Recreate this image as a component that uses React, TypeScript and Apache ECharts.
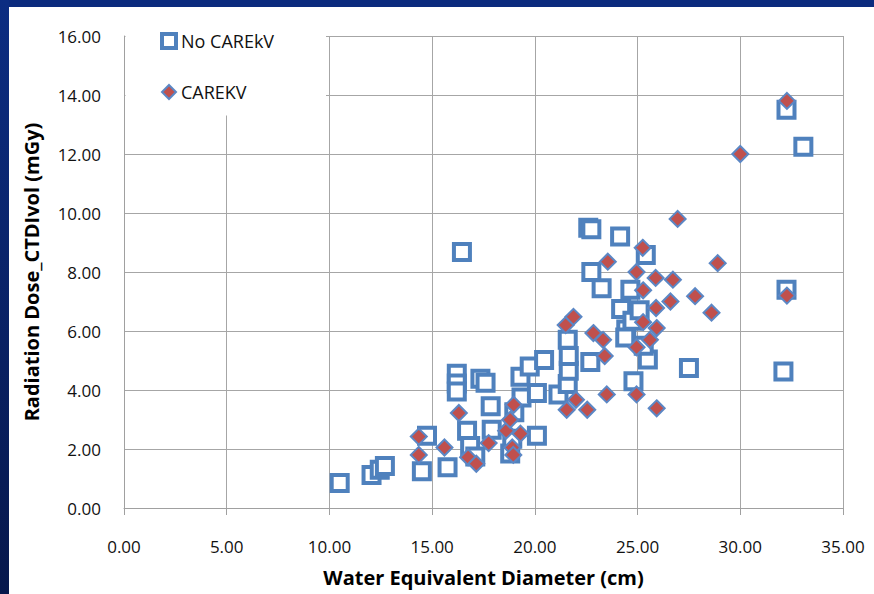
import React, { useEffect, useRef } from "react";
import * as echarts from "echarts";

const seriesNames = ["No CAREkV", "CAREKV"];

// [water equivalent diameter (cm), CTDIvol (mGy)]
const noCareKV: [number, number][] = [
  [10.5, 0.85], [12.05, 1.12], [12.45, 1.3], [12.7, 1.42], [14.5, 1.25],
  [14.75, 2.45], [15.75, 1.38], [16.2, 4.55], [16.2, 4.22], [16.2, 3.95],
  [16.45, 8.68], [16.7, 2.62], [16.85, 2.1], [17.1, 1.75], [17.35, 4.38],
  [17.6, 4.25], [17.85, 3.45], [17.9, 2.65], [18.8, 1.85], [18.9, 2.35],
  [19.0, 3.25], [19.3, 4.45], [19.35, 3.75], [19.75, 4.8], [20.1, 2.45],
  [20.1, 3.9], [20.45, 5.02], [21.15, 3.85], [21.6, 4.2], [21.65, 4.65],
  [21.6, 5.7], [21.65, 5.15], [22.6, 9.5], [22.75, 9.45], [22.75, 8.0],
  [22.7, 4.95], [23.25, 7.45], [24.15, 9.2], [24.2, 6.75], [24.45, 6.05],
  [24.4, 5.78], [24.65, 7.4], [24.75, 6.35], [24.8, 4.3], [25.1, 6.7],
  [25.4, 8.58], [25.5, 5.03], [25.3, 5.5], [27.5, 4.75], [32.25, 13.5],
  [33.07, 12.25], [32.25, 7.4], [32.1, 4.63],
];

const careKV: [number, number][] = [
  [14.35, 2.42], [14.35, 1.8], [15.6, 2.05], [16.3, 3.22], [16.75, 1.72],
  [17.15, 1.5], [17.75, 2.2], [18.6, 2.62], [18.8, 2.99], [18.9, 2.05],
  [18.95, 1.8], [18.97, 3.5], [19.3, 2.52], [21.5, 6.2], [21.88, 6.48],
  [21.55, 3.33], [22.0, 3.67], [22.55, 3.33], [22.85, 5.93], [23.32, 5.7],
  [23.4, 5.15], [23.5, 3.85], [23.55, 8.35], [24.95, 3.85], [24.95, 5.45],
  [24.95, 8.0], [25.25, 8.82], [25.27, 7.38], [25.27, 6.3], [25.6, 5.7],
  [25.88, 7.8], [25.9, 6.78], [25.93, 6.1], [25.93, 3.38], [26.6, 7.0],
  [26.72, 7.74], [26.95, 9.8], [27.8, 7.18], [28.6, 6.62], [28.9, 8.3],
  [30.0, 12.0], [32.27, 13.8], [32.27, 7.2],
];

const xTitle = "Water Equivalent Diameter (cm)";
const yTitle = "Radiation Dose_CTDIvol (mGy)";

const FONT = "'Open Sans', 'Noto Sans', sans-serif";
const BLUE = "#4f81bd";
const RED = "#c0504d";

export default function App() {
  const ref = useRef<HTMLDivElement>(null);
  useEffect(() => {
    const chart = echarts.init(ref.current!, null, { renderer: "svg" });
    const navy = new echarts.graphic.LinearGradient(0, 0, 0, 1, [
      { offset: 0, color: "#0c2d82" },
      { offset: 1, color: "#07184c" },
    ]);
    chart.setOption({
      animation: false,
      backgroundColor: "#ffffff",
      grid: { left: 124, right: 31, top: 36, bottom: 86, containLabel: false },
      xAxis: {
        type: "value",
        min: 0,
        max: 35,
        interval: 5,
        name: xTitle,
        nameLocation: "middle",
        nameGap: 59,
        nameTextStyle: { fontFamily: FONT, fontSize: 20, fontWeight: "bold", color: "#000" },
        axisLine: { show: true, lineStyle: { color: "#a0a0a0", width: 1 } },
        axisTick: { show: true, length: 7, lineStyle: { color: "#a0a0a0" } },
        splitLine: { show: true, lineStyle: { color: "#a6a6a6", width: 1 } },
        axisLabel: {
          fontFamily: FONT,
          fontSize: 17,
          color: "#111",
          margin: 30,
          formatter: (v: number) => v.toFixed(2),
        },
      },
      yAxis: {
        type: "value",
        min: 0,
        max: 16,
        interval: 2,
        name: yTitle,
        nameLocation: "middle",
        nameGap: 83,
        nameTextStyle: { fontFamily: FONT, fontSize: 20, fontWeight: "bold", color: "#000" },
        axisLine: { show: true, lineStyle: { color: "#a0a0a0", width: 1 } },
        axisTick: { show: false },
        splitLine: { show: true, lineStyle: { color: "#a6a6a6", width: 1 } },
        axisLabel: {
          fontFamily: FONT,
          fontSize: 17,
          color: "#111",
          margin: 23,
          formatter: (v: number) => v.toFixed(2),
        },
      },
      legend: {
        orient: "vertical",
        left: 155,
        top: 27,
        itemWidth: 14,
        itemHeight: 14,
        itemGap: 33,
        z: 20,
        textStyle: { fontFamily: FONT, fontSize: 18, color: "#111" },
        data: [
          {
            name: seriesNames[0],
            icon: "rect",
            itemStyle: { color: "#ffffff", borderColor: BLUE, borderWidth: 4 },
          },
          {
            name: seriesNames[1],
            icon: "diamond",
            itemStyle: { color: RED, borderColor: "#5b87c5", borderWidth: 2 },
          },
        ],
      },
      graphic: [
        {
          type: "rect",
          z: 10,
          shape: { x: 125.5, y: 30, width: 200.5, height: 85.5 },
          style: { fill: "#ffffff" },
        },
        {
          type: "rect",
          z: 30,
          shape: { x: 0, y: 0, width: 874, height: 7 },
          style: { fill: "#0b2b7e" },
        },
        {
          type: "rect",
          z: 30,
          shape: { x: 0, y: 0, width: 9, height: 594 },
          style: { fill: navy },
        },
      ],
      series: [
        {
          name: seriesNames[0],
          type: "scatter",
          symbol: "rect",
          symbolSize: 16,
          itemStyle: { color: "#ffffff", borderColor: BLUE, borderWidth: 4, opacity: 1 },
          data: noCareKV,
          z: 2,
        },
        {
          name: seriesNames[1],
          type: "scatter",
          symbol: "diamond",
          symbolSize: 16,
          itemStyle: { color: RED, borderColor: "#5b87c5", borderWidth: 2, opacity: 1 },
          data: careKV,
          z: 3,
        },
      ],
    });
    return () => chart.dispose();
  }, []);
  return (
    <div
      ref={ref}
      style={{ position: "fixed", left: 0, top: 0, width: 874, height: 594, background: "#fff" }}
    />
  );
}
